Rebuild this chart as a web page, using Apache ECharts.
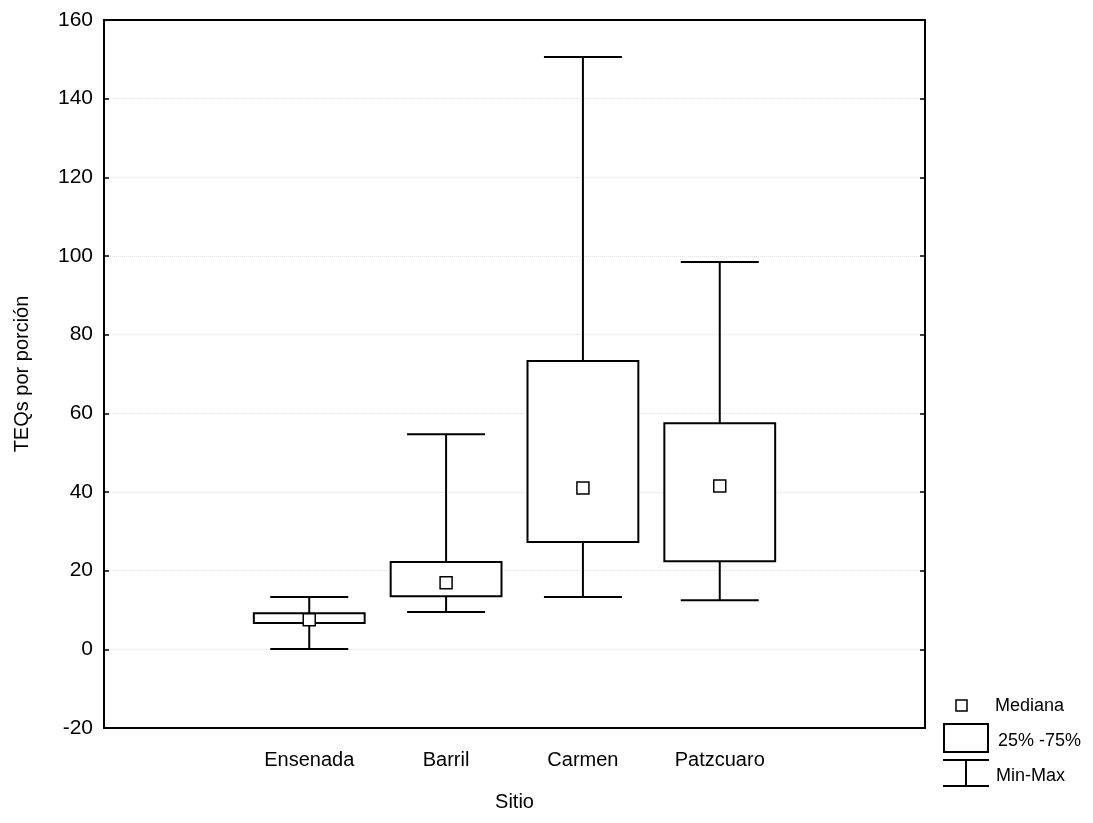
<!DOCTYPE html>
<html>
<head>
<meta charset="utf-8">
<script src="https://cdn.jsdelivr.net/npm/echarts@6/dist/echarts.min.js"></script>
<style>
html,body{margin:0;padding:0;background:#fff;}
#chart{width:1093px;height:823px;}
</style>
</head>
<body>
<div id="chart"></div>
<script>
const categories = ['Ensenada', 'Barril', 'Carmen', 'Patzcuaro'];
const mins    = [0.1, 9.5, 13.3, 12.5];
const q1s     = [6.7, 13.5, 27.3, 22.4];
const medians = [7.5, 16.9, 41.0, 41.5];
const q3s     = [9.2, 22.2, 73.3, 57.5];
const maxs    = [13.3, 54.7, 150.6, 98.5];
const yTicks  = { min: -20, max: 160, interval: 20 };

const axisCats = [''].concat(categories, ['']);
const data = categories.map((c, i) => [i + 1, mins[i], q1s[i], medians[i], q3s[i], maxs[i]]);

const FONT = "'Liberation Sans', Arial, sans-serif";

function renderItem(params, api) {
  const x = api.value(0);
  const pMin = api.coord([x, api.value(1)]);
  const pQ1 = api.coord([x, api.value(2)]);
  const pMed = api.coord([x, api.value(3)]);
  const pQ3 = api.coord([x, api.value(4)]);
  const pMax = api.coord([x, api.value(5)]);
  const band = api.size([1, 0])[0];
  const bw = band * 0.81, cw = band * 0.57, ms = 12;
  const cx = pMin[0];
  const st = { stroke: '#000', lineWidth: 2, fill: null };
  return {
    type: 'group',
    children: [
      { type: 'line', shape: { x1: cx, y1: pMax[1], x2: cx, y2: pQ3[1] }, style: st },
      { type: 'line', shape: { x1: cx, y1: pQ1[1], x2: cx, y2: pMin[1] }, style: st },
      { type: 'line', shape: { x1: cx - cw / 2, y1: pMax[1], x2: cx + cw / 2, y2: pMax[1] }, style: st },
      { type: 'line', shape: { x1: cx - cw / 2, y1: pMin[1], x2: cx + cw / 2, y2: pMin[1] }, style: st },
      { type: 'rect', shape: { x: cx - bw / 2, y: pQ3[1], width: bw, height: pQ1[1] - pQ3[1] },
        style: { stroke: '#000', lineWidth: 2, fill: '#fff' } },
      { type: 'rect', shape: { x: cx - ms / 2, y: pMed[1] - ms / 2, width: ms, height: ms },
        style: { stroke: '#000', lineWidth: 1.5, fill: '#fff' } }
    ]
  };
}

const chart = echarts.init(document.getElementById('chart'), null, { renderer: 'canvas' });
chart.setOption({
  animation: false,
  backgroundColor: '#fff',
  grid: { left: 104, right: 168, top: 20, bottom: 95, containLabel: false },
  xAxis: [
    {
      type: 'category', data: axisCats, position: 'bottom',
      name: 'Sitio', nameLocation: 'middle', nameGap: 64,
      nameTextStyle: { color: '#000', fontSize: 20, fontFamily: FONT },
      axisLine: { onZero: false, lineStyle: { color: '#000', width: 2 } },
      axisTick: { inside: true, length: 5, alignWithLabel: true, lineStyle: { color: '#000', width: 1.5 } },
      axisLabel: { color: '#000', fontSize: 20, fontFamily: FONT, margin: 22, interval: 0 },
      splitLine: { show: false }
    },
    {
      type: 'category', data: axisCats, position: 'top',
      axisLine: { onZero: false, lineStyle: { color: '#000', width: 2 } },
      axisTick: { inside: true, length: 5, alignWithLabel: true, lineStyle: { color: '#000', width: 1.5 } },
      axisLabel: { show: false }, splitLine: { show: false }
    }
  ],
  yAxis: [
    {
      type: 'value', min: yTicks.min, max: yTicks.max, interval: yTicks.interval, position: 'left',
      name: 'TEQs por porción', nameLocation: 'middle', nameGap: 72, nameRotate: 90,
      nameTextStyle: { color: '#000', fontSize: 20, fontFamily: FONT },
      axisLine: { show: true, onZero: false, lineStyle: { color: '#000', width: 2 } },
      axisTick: { show: true, inside: true, length: 5, lineStyle: { color: '#000', width: 1.5 } },
      axisLabel: { color: '#000', fontSize: 21, fontFamily: FONT, margin: 11 },
      splitLine: { show: true, lineStyle: { color: '#e2e2e2', type: 'dotted', width: 1 } }
    },
    {
      type: 'value', min: yTicks.min, max: yTicks.max, interval: yTicks.interval, position: 'right',
      axisLine: { show: true, onZero: false, lineStyle: { color: '#000', width: 2 } },
      axisTick: { show: true, inside: true, length: 5, lineStyle: { color: '#000', width: 1.5 } },
      axisLabel: { show: false }, splitLine: { show: false }
    }
  ],
  series: [{
    type: 'custom',
    renderItem: renderItem,
    encode: { x: 0, y: [1, 2, 3, 4, 5] },
    data: data,
    z: 10
  }],
  graphic: [
    { type: 'rect', shape: { x: 956, y: 700, width: 11, height: 11 }, style: { stroke: '#000', lineWidth: 1.5, fill: '#fff' } },
    { type: 'text', x: 995, y: 706, style: { text: 'Mediana', fill: '#000', font: "18px 'Liberation Sans', Arial, sans-serif", textVerticalAlign: 'middle' } },
    { type: 'rect', shape: { x: 944, y: 724, width: 44, height: 28 }, style: { stroke: '#000', lineWidth: 2, fill: '#fff' } },
    { type: 'text', x: 998, y: 741, style: { text: '25% -75%', fill: '#000', font: "18px 'Liberation Sans', Arial, sans-serif", textVerticalAlign: 'middle' } },
    { type: 'line', shape: { x1: 943, y1: 760, x2: 989, y2: 760 }, style: { stroke: '#000', lineWidth: 2 } },
    { type: 'line', shape: { x1: 966, y1: 760, x2: 966, y2: 786 }, style: { stroke: '#000', lineWidth: 2 } },
    { type: 'line', shape: { x1: 943, y1: 786, x2: 989, y2: 786 }, style: { stroke: '#000', lineWidth: 2 } },
    { type: 'text', x: 996, y: 776, style: { text: 'Min-Max', fill: '#000', font: "18px 'Liberation Sans', Arial, sans-serif", textVerticalAlign: 'middle' } }
  ]
});
</script>
</body>
</html>
